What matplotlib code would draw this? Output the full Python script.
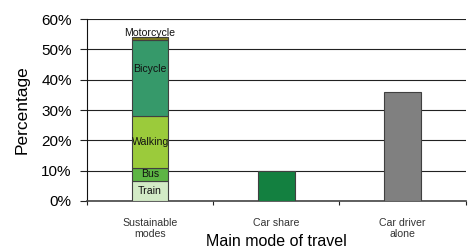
import numpy as np
import matplotlib.pyplot as plt
from matplotlib.ticker import PercentFormatter

categories = ["Sustainable\nmodes", "Car share", "Car driver\nalone"]

# stacked components of the sustainable modes bar (%)
segment_names = ["Train", "Bus", "Walking", "Bicycle", "Motorcycle"]
segment_values = [6.6, 4.4, 17.0, 25.0, 1.0]
segment_colors = ["#d3ebc6", "#5db544", "#9bcb3b", "#36996a", "#7d7a1e"]

car_share = 10.0
car_driver_alone = 36.0

plt.rcParams["font.family"] = ["Liberation Sans", "DejaVu Sans"]

fig = plt.figure(figsize=(4.7, 2.5), dpi=100)
ax = fig.add_axes([0.185, 0.196, 0.806, 0.728])

x = np.arange(len(categories))
width = 0.29
edge = "#404040"

bottom = 0.0
for name, val, col in zip(segment_names, segment_values, segment_colors):
    ax.bar(x[0], val, width, bottom=bottom, color=col, edgecolor=edge,
           linewidth=0.8, zorder=3)
    if name == "Motorcycle":
        ty = bottom + val + 1.5
    elif name == "Bicycle":
        ty = bottom + val * 0.62
    else:
        ty = bottom + val / 2
    ax.text(x[0], ty, name, ha="center", va="center", fontsize=7.6,
            color="#111111", zorder=4)
    bottom += val

ax.bar(x[1], car_share, width, color="#138040", edgecolor=edge,
       linewidth=0.8, zorder=3)
ax.bar(x[2], car_driver_alone, width, color="#808080", edgecolor=edge,
       linewidth=0.8, zorder=3)

ax.set_xlim(-0.5, 2.5)
ax.set_ylim(0, 60)
ax.set_yticks(np.arange(0, 61, 10))
ax.yaxis.set_major_formatter(PercentFormatter(decimals=0))
ax.yaxis.grid(True, color="#222222", linewidth=0.8, zorder=0)
ax.tick_params(axis="y", length=5, width=0.8, labelsize=11, pad=6,
               color="#222222")

ax.set_xticks(x)
ax.set_xticklabels(categories, fontsize=7.6, color="#333333")
ax.tick_params(axis="x", which="major", length=0, pad=12)
ax.set_xticks([-0.5, 0.5, 1.5, 2.5], minor=True)
ax.tick_params(axis="x", which="minor", length=3, width=0.8, color="#222222")

for side in ["top", "right"]:
    ax.spines[side].set_visible(False)
ax.spines["left"].set_color("#111111")
ax.spines["bottom"].set_color("#444444")
ax.spines["bottom"].set_linewidth(1.2)

ax.set_ylabel("Percentage", fontsize=12.5, labelpad=8)
ax.set_xlabel("Main mode of travel", fontsize=11.5, labelpad=-4)

fig.savefig("out.png", dpi=100)
